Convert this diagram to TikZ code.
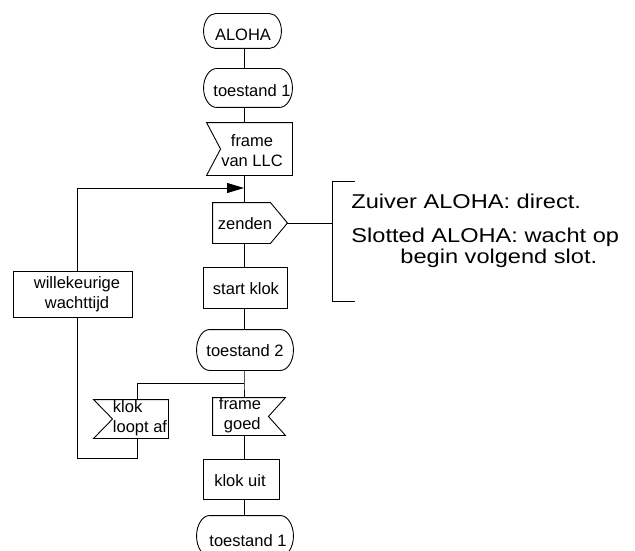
\documentclass[tikz,border=0pt]{standalone}
\usepackage{fontspec}
\setmainfont{Liberation Sans}
\newfontfamily\notefont{Liberation Sans}[FakeStretch=1.18]
\usetikzlibrary{calc,arrows.meta}

% SDL state / start symbol: box with elliptic ends (#2 = end depth, #3 = half height)
\newcommand\sdlstate[3]{%
  \draw ($(#1.north west)+(#2,0)$) -- ($(#1.north east)+(-#2,0)$)
    .. controls +({0.5523*#2},0) and +(0,{-0.5523*#3}) .. (#1.east)
    .. controls +(0,{0.5523*#3}) and +({0.5523*#2},0) .. ($(#1.south east)+(-#2,0)$)
    -- ($(#1.south west)+(#2,0)$)
    .. controls +({-0.5523*#2},0) and +(0,{0.5523*#3}) .. (#1.west)
    .. controls +(0,{-0.5523*#3}) and +({-0.5523*#2},0) .. ($(#1.north west)+(#2,0)$)
    -- cycle;}
% input signal, notch on the left
\newcommand\sdlinL[2]{%
  \draw (#1.north west) -- (#1.north east) -- (#1.south east) -- (#1.south west)
    -- ($(#1.west)+(#2,0)$) -- cycle;}
% input signal, notch on the right
\newcommand\sdlinR[2]{%
  \draw (#1.north west) -- (#1.north east) -- ($(#1.east)+(-#2,0)$)
    -- (#1.south east) -- (#1.south west) -- cycle;}
% output signal, pointing right
\newcommand\sdlout[2]{%
  \draw (#1.north west) -- ($(#1.north east)+(-#2,0)$) -- (#1.east)
    -- ($(#1.south east)+(-#2,0)$) -- (#1.south west) -- cycle;}

\begin{document}
\begin{tikzpicture}[x=1pt,y=-1pt,line width=0.9pt,
  cell/.style 2 args={rectangle,inner sep=0pt,minimum width=#1,minimum height=#2},
  boxtext/.style={font=\fontsize{16.5}{20}\selectfont,align=center,inner sep=0pt},
  lefttext/.style={font=\fontsize{16.5}{20}\selectfont,align=left,inner sep=0pt},
  notetext/.style={font=\notefont\fontsize{20}{24}\selectfont,inner sep=0pt,anchor=base west},
  flow/.style={-{Triangle[length=17pt,width=10pt]}}]

\useasboundingbox (0,0) rectangle (635,551);
\clip (0,0) rectangle (635,551);

% symbol outlines (nodes sized to the symbols)
\node[cell={77pt}{34pt}] (aloha)   at (242.5,31)  {};
\node[cell={88pt}{38pt}] (t1)      at (248,88)    {};
\node[cell={85pt}{52pt}] (llc)     at (249.5,149) {};
\node[cell={74pt}{40pt}] (zenden)  at (250,223)   {};
\node[cell={83pt}{40pt}] (start)   at (245.5,288) {};
\node[cell={96pt}{40pt}] (t2)      at (245,350)   {};
\node[cell={118pt}{45pt}] (wacht)  at (73,294.5)  {};
\node[cell={74pt}{38pt}] (klokaf)  at (131,419)   {};
\node[cell={72pt}{37pt}] (goed)    at (249,416.5) {};
\node[cell={75pt}{39pt}] (klokuit) at (241.5,479.5) {};
\node[cell={96pt}{40pt}] (t1b)     at (245,536)   {};

\sdlstate{aloha}{12}{17}
\sdlstate{t1}{13}{19}
\sdlinL{llc}{14}
\sdlout{zenden}{17}
\draw (start.north west) rectangle (start.south east);
\sdlstate{t2}{13}{20}
\draw (wacht.north west) rectangle (wacht.south east);
\sdlinL{klokaf}{19}
\sdlinR{goed}{17}
\draw (klokuit.north west) rectangle (klokuit.south east);
\sdlstate{t1b}{13}{20}

% texts
\node[boxtext] (aloha-t)   at (243,35)  {ALOHA};
\node[boxtext] (t1-t)      at (252,91)  {toestand 1};
\node[boxtext] (llc-t)     at (252,151) {frame\\van LLC};
\node[boxtext] (zenden-t)  at (245,224) {zenden};
\node[boxtext] (start-t)   at (246,289) {start klok};
\node[boxtext] (t2-t)      at (245,351) {toestand 2};
\node[boxtext] (wacht-t)   at (77,294)  {willekeurige\\wachttijd};
\node[lefttext] (klokaf-t) at (140,418) {klok\\loopt af};
\node[boxtext] (goed-t)    at (240,415) {frame\\\ goed};
\node[boxtext] (klokuit-t) at (240,481) {klok uit};
\node[boxtext] (t1b-t)     at (248,541) {toestand 1};

\node[notetext] (note1) at (351,208) {Zuiver ALOHA: direct.};
\node[notetext] (note2) at (351,242) {Slotted ALOHA: wacht op};
\node[notetext] (note3) at (400,263) {begin volgend slot.};

% routing points
\coordinate (spine)  at (244,0);
\coordinate (merge)  at (244,188);
\coordinate (split)  at (244,383);
\coordinate (loopx)  at (137,0);
\coordinate (retx)   at (77,0);
\coordinate (loopbot) at (77,458);
\coordinate (bartop) at (355,181);
\coordinate (barbot) at (355,301);
\coordinate (barx)   at (332,0);

% main flow
\draw (spine |- aloha.south) -- (spine |- t1.north);
\draw (spine |- t1.south) -- (spine |- llc.north);
\draw (spine |- llc.south) -- (spine |- zenden.north);
\draw (spine |- zenden.south) -- (spine |- start.north);
\draw (spine |- start.south) -- (spine |- t2.north);
\draw (spine |- t2.south) -- (split) -- (spine |- goed.north);
\draw (spine |- goed.south) -- (spine |- klokuit.north);
\draw (spine |- klokuit.south) -- (spine |- t1b.north);

% time-out loop
\draw (split) -| (loopx |- klokaf.north);
\draw (loopx |- klokaf.south) |- (loopbot) -- (retx |- wacht.south);
\draw[flow] (retx |- wacht.north) |- (merge);

% comment bracket on the send step
\draw (zenden.east) -- (barx |- zenden.east);
\draw (bartop) -- (barx |- bartop) -- (barx |- barbot) -- (barbot);
\end{tikzpicture}
\end{document}
